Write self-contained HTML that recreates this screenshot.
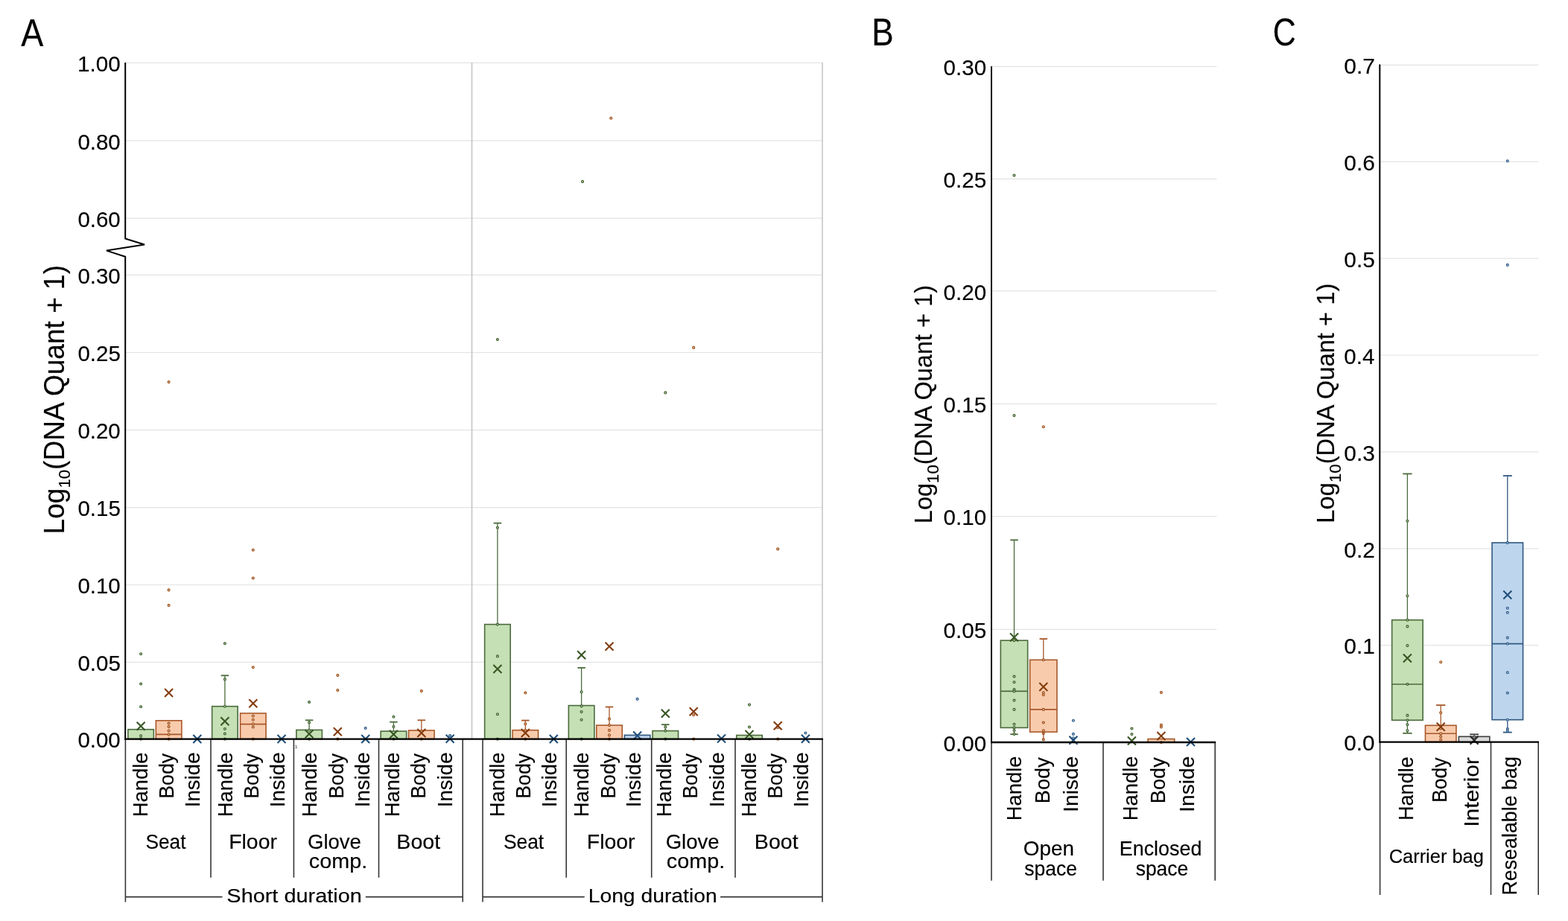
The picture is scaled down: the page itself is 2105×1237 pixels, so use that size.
<!DOCTYPE html>
<html><head><meta charset="utf-8"><title>Figure</title>
<style>html,body{margin:0;padding:0;background:#fff;}svg{display:block;}</style>
</head><body>
<svg width="2105" height="1237" viewBox="0 0 2105 1237" font-family="'Liberation Sans', Arial, sans-serif">
<style>text{stroke:#000;stroke-width:0.15px;}</style>
<rect width="2105" height="1237" fill="#fff"/>
<line x1="168" y1="84.3" x2="1104" y2="84.3" stroke="#e3e3e3" stroke-width="1.2"/>
<line x1="168" y1="188.8" x2="1104" y2="188.8" stroke="#e3e3e3" stroke-width="1.2"/>
<line x1="168" y1="293.1" x2="1104" y2="293.1" stroke="#e3e3e3" stroke-width="1.2"/>
<line x1="168" y1="369.3" x2="1104" y2="369.3" stroke="#e3e3e3" stroke-width="1.2"/>
<line x1="168" y1="473.5" x2="1104" y2="473.5" stroke="#e3e3e3" stroke-width="1.2"/>
<line x1="168" y1="577.7" x2="1104" y2="577.7" stroke="#e3e3e3" stroke-width="1.2"/>
<line x1="168" y1="681.6" x2="1104" y2="681.6" stroke="#e3e3e3" stroke-width="1.2"/>
<line x1="168" y1="785.5" x2="1104" y2="785.5" stroke="#e3e3e3" stroke-width="1.2"/>
<line x1="168" y1="889.4" x2="1104" y2="889.4" stroke="#e3e3e3" stroke-width="1.2"/>
<line x1="633.5" y1="84" x2="633.5" y2="992.6" stroke="#bfbfbf" stroke-width="1.4"/>
<line x1="1104" y1="84" x2="1104" y2="992.6" stroke="#bfbfbf" stroke-width="1.4"/>
<text x="104.04" y="96" font-size="29.6" textLength="57.72" lengthAdjust="spacingAndGlyphs" fill="#000">1.00</text>
<text x="104.45" y="200.5" font-size="29.6" textLength="57.3" lengthAdjust="spacingAndGlyphs" fill="#000">0.80</text>
<text x="104.45" y="304.8" font-size="29.6" textLength="57.3" lengthAdjust="spacingAndGlyphs" fill="#000">0.60</text>
<text x="104.45" y="381" font-size="29.6" textLength="57.3" lengthAdjust="spacingAndGlyphs" fill="#000">0.30</text>
<text x="104.45" y="485.2" font-size="29.6" textLength="57.39" lengthAdjust="spacingAndGlyphs" fill="#000">0.25</text>
<text x="104.45" y="589.4" font-size="29.6" textLength="57.3" lengthAdjust="spacingAndGlyphs" fill="#000">0.20</text>
<text x="104.45" y="693.3" font-size="29.6" textLength="57.39" lengthAdjust="spacingAndGlyphs" fill="#000">0.15</text>
<text x="104.45" y="797.2" font-size="29.6" textLength="57.3" lengthAdjust="spacingAndGlyphs" fill="#000">0.10</text>
<text x="104.45" y="901.1" font-size="29.6" textLength="57.39" lengthAdjust="spacingAndGlyphs" fill="#000">0.05</text>
<text x="104.45" y="1004.3" font-size="29.6" textLength="57.3" lengthAdjust="spacingAndGlyphs" fill="#000">0.00</text>
<line x1="168.4" y1="992.6" x2="168.4" y2="1211.6" stroke="#363636" stroke-width="1.6"/>
<line x1="283" y1="992.6" x2="283" y2="1178.7" stroke="#363636" stroke-width="1.6"/>
<line x1="394.4" y1="992.6" x2="394.4" y2="1178.7" stroke="#363636" stroke-width="1.6"/>
<line x1="508.5" y1="992.6" x2="508.5" y2="1178.7" stroke="#363636" stroke-width="1.6"/>
<line x1="621.2" y1="992.6" x2="621.2" y2="1211.6" stroke="#363636" stroke-width="1.6"/>
<line x1="648" y1="992.6" x2="648" y2="1211.6" stroke="#363636" stroke-width="1.6"/>
<line x1="760.2" y1="992.6" x2="760.2" y2="1178.7" stroke="#363636" stroke-width="1.6"/>
<line x1="874.7" y1="992.6" x2="874.7" y2="1178.7" stroke="#363636" stroke-width="1.6"/>
<line x1="987" y1="992.6" x2="987" y2="1178.7" stroke="#363636" stroke-width="1.6"/>
<line x1="1104" y1="992.6" x2="1104" y2="1211.6" stroke="#363636" stroke-width="1.6"/>
<line x1="168.4" y1="1204.6" x2="298.5" y2="1204.6" stroke="#363636" stroke-width="1.6"/>
<line x1="490.8" y1="1204.6" x2="621.2" y2="1204.6" stroke="#363636" stroke-width="1.6"/>
<line x1="648" y1="1204.6" x2="784.7" y2="1204.6" stroke="#363636" stroke-width="1.6"/>
<line x1="967.1" y1="1204.6" x2="1104" y2="1204.6" stroke="#363636" stroke-width="1.6"/>
<rect x="171.85" y="979.7" width="34.5" height="12.9" fill="#c5e0b4" stroke="#4b6b3c" stroke-width="1.6"/>
<circle cx="189.1" cy="878.2" r="1.45" fill="#c5e0b4" stroke="#3e5e2f" stroke-width="1.2"/>
<circle cx="189.1" cy="918.5" r="1.45" fill="#c5e0b4" stroke="#3e5e2f" stroke-width="1.2"/>
<circle cx="189.1" cy="949.3" r="1.45" fill="#c5e0b4" stroke="#3e5e2f" stroke-width="1.2"/>
<circle cx="189.1" cy="988.4" r="1.45" fill="#c5e0b4" stroke="#3e5e2f" stroke-width="1.2"/>
<circle cx="189.1" cy="992.6" r="1.45" fill="#c5e0b4" stroke="#3e5e2f" stroke-width="1.2"/>
<path d="M183.6,969.7L194.6,980.7M183.6,980.7L194.6,969.7" stroke="#375623" stroke-width="2.1" fill="none"/>
<rect x="209.35" y="967.8" width="34.5" height="24.8" fill="#f8cbad" stroke="#a8582a" stroke-width="1.6"/>
<line x1="209.35" y1="986.4" x2="243.85" y2="986.4" stroke="#a8582a" stroke-width="1.6"/>
<circle cx="226.6" cy="513.1" r="1.45" fill="#f8cbad" stroke="#9a4f1c" stroke-width="1.2"/>
<circle cx="226.6" cy="792.4" r="1.45" fill="#f8cbad" stroke="#9a4f1c" stroke-width="1.2"/>
<circle cx="226.6" cy="813" r="1.45" fill="#f8cbad" stroke="#9a4f1c" stroke-width="1.2"/>
<circle cx="226.6" cy="971.5" r="1.45" fill="#f8cbad" stroke="#9a4f1c" stroke-width="1.2"/>
<circle cx="226.6" cy="976.1" r="1.45" fill="#f8cbad" stroke="#9a4f1c" stroke-width="1.2"/>
<circle cx="226.6" cy="981.6" r="1.45" fill="#f8cbad" stroke="#9a4f1c" stroke-width="1.2"/>
<circle cx="226.6" cy="986.6" r="1.45" fill="#f8cbad" stroke="#9a4f1c" stroke-width="1.2"/>
<circle cx="226.6" cy="992.6" r="1.45" fill="#f8cbad" stroke="#9a4f1c" stroke-width="1.2"/>
<path d="M221.1,925L232.1,936M221.1,936L232.1,925" stroke="#843c0c" stroke-width="2.1" fill="none"/>
<path d="M259.3,987.1L270.3,998.1M259.3,998.1L270.3,987.1" stroke="#1f4e79" stroke-width="2.1" fill="none"/>
<line x1="301.9" y1="907.3" x2="301.9" y2="948.7" stroke="#4b6b3c" stroke-width="1.3"/>
<line x1="296.65" y1="907.3" x2="307.15" y2="907.3" stroke="#4b6b3c" stroke-width="1.8"/>
<rect x="284.65" y="948.7" width="34.5" height="43.9" fill="#c5e0b4" stroke="#4b6b3c" stroke-width="1.6"/>
<circle cx="301.9" cy="864.3" r="1.45" fill="#c5e0b4" stroke="#3e5e2f" stroke-width="1.2"/>
<circle cx="301.9" cy="912.4" r="1.45" fill="#c5e0b4" stroke="#3e5e2f" stroke-width="1.2"/>
<circle cx="301.9" cy="948.7" r="1.45" fill="#c5e0b4" stroke="#3e5e2f" stroke-width="1.2"/>
<circle cx="301.9" cy="979" r="1.45" fill="#c5e0b4" stroke="#3e5e2f" stroke-width="1.2"/>
<circle cx="301.9" cy="985.5" r="1.45" fill="#c5e0b4" stroke="#3e5e2f" stroke-width="1.2"/>
<circle cx="301.9" cy="992.6" r="1.45" fill="#c5e0b4" stroke="#3e5e2f" stroke-width="1.2"/>
<path d="M296.4,963.2L307.4,974.2M296.4,974.2L307.4,963.2" stroke="#375623" stroke-width="2.1" fill="none"/>
<rect x="322.55" y="958" width="34.5" height="34.6" fill="#f8cbad" stroke="#a8582a" stroke-width="1.6"/>
<line x1="322.55" y1="972.6" x2="357.05" y2="972.6" stroke="#a8582a" stroke-width="1.6"/>
<circle cx="339.8" cy="738.8" r="1.45" fill="#f8cbad" stroke="#9a4f1c" stroke-width="1.2"/>
<circle cx="339.8" cy="776.5" r="1.45" fill="#f8cbad" stroke="#9a4f1c" stroke-width="1.2"/>
<circle cx="339.8" cy="896.3" r="1.45" fill="#f8cbad" stroke="#9a4f1c" stroke-width="1.2"/>
<circle cx="339.8" cy="961.6" r="1.45" fill="#f8cbad" stroke="#9a4f1c" stroke-width="1.2"/>
<circle cx="339.8" cy="966.8" r="1.45" fill="#f8cbad" stroke="#9a4f1c" stroke-width="1.2"/>
<circle cx="339.8" cy="972.2" r="1.45" fill="#f8cbad" stroke="#9a4f1c" stroke-width="1.2"/>
<circle cx="339.8" cy="976.5" r="1.45" fill="#f8cbad" stroke="#9a4f1c" stroke-width="1.2"/>
<circle cx="339.8" cy="992.6" r="1.45" fill="#f8cbad" stroke="#9a4f1c" stroke-width="1.2"/>
<path d="M334.3,939.3L345.3,950.3M334.3,950.3L345.3,939.3" stroke="#843c0c" stroke-width="2.1" fill="none"/>
<path d="M372.5,987.1L383.5,998.1M372.5,998.1L383.5,987.1" stroke="#1f4e79" stroke-width="2.1" fill="none"/>
<line x1="415.1" y1="967.3" x2="415.1" y2="980.4" stroke="#4b6b3c" stroke-width="1.3"/>
<line x1="409.85" y1="967.3" x2="420.35" y2="967.3" stroke="#4b6b3c" stroke-width="1.8"/>
<rect x="397.85" y="980.4" width="34.5" height="12.2" fill="#c5e0b4" stroke="#4b6b3c" stroke-width="1.6"/>
<circle cx="415.1" cy="943" r="1.45" fill="#c5e0b4" stroke="#3e5e2f" stroke-width="1.2"/>
<circle cx="415.1" cy="970.5" r="1.45" fill="#c5e0b4" stroke="#3e5e2f" stroke-width="1.2"/>
<circle cx="415.1" cy="980.7" r="1.45" fill="#c5e0b4" stroke="#3e5e2f" stroke-width="1.2"/>
<circle cx="415.1" cy="992.6" r="1.45" fill="#c5e0b4" stroke="#3e5e2f" stroke-width="1.2"/>
<path d="M409.6,980.2L420.6,991.2M409.6,991.2L420.6,980.2" stroke="#375623" stroke-width="2.1" fill="none"/>
<circle cx="453.3" cy="907" r="1.45" fill="#f8cbad" stroke="#9a4f1c" stroke-width="1.2"/>
<circle cx="453.3" cy="927" r="1.45" fill="#f8cbad" stroke="#9a4f1c" stroke-width="1.2"/>
<circle cx="453.3" cy="992.6" r="1.45" fill="#f8cbad" stroke="#9a4f1c" stroke-width="1.2"/>
<path d="M447.8,977.2L458.8,988.2M447.8,988.2L458.8,977.2" stroke="#843c0c" stroke-width="2.1" fill="none"/>
<circle cx="490.7" cy="978" r="1.45" fill="#bdd5ed" stroke="#2c5a86" stroke-width="1.2"/>
<path d="M485.2,987.1L496.2,998.1M485.2,998.1L496.2,987.1" stroke="#1f4e79" stroke-width="2.1" fill="none"/>
<line x1="528.4" y1="969.7" x2="528.4" y2="982.1" stroke="#4b6b3c" stroke-width="1.3"/>
<line x1="523.15" y1="969.7" x2="533.65" y2="969.7" stroke="#4b6b3c" stroke-width="1.8"/>
<rect x="511.15" y="982.1" width="34.5" height="10.5" fill="#c5e0b4" stroke="#4b6b3c" stroke-width="1.6"/>
<circle cx="528.4" cy="962.8" r="1.45" fill="#c5e0b4" stroke="#3e5e2f" stroke-width="1.2"/>
<circle cx="528.4" cy="976" r="1.45" fill="#c5e0b4" stroke="#3e5e2f" stroke-width="1.2"/>
<circle cx="528.4" cy="992.6" r="1.45" fill="#c5e0b4" stroke="#3e5e2f" stroke-width="1.2"/>
<path d="M522.9,980.8L533.9,991.8M522.9,991.8L533.9,980.8" stroke="#375623" stroke-width="2.1" fill="none"/>
<line x1="565.8" y1="967.3" x2="565.8" y2="981" stroke="#a8582a" stroke-width="1.3"/>
<line x1="560.55" y1="967.3" x2="571.05" y2="967.3" stroke="#a8582a" stroke-width="1.8"/>
<rect x="548.55" y="981" width="34.5" height="11.6" fill="#f8cbad" stroke="#a8582a" stroke-width="1.6"/>
<circle cx="565.8" cy="928.1" r="1.45" fill="#f8cbad" stroke="#9a4f1c" stroke-width="1.2"/>
<circle cx="565.8" cy="992.6" r="1.45" fill="#f8cbad" stroke="#9a4f1c" stroke-width="1.2"/>
<path d="M560.3,979L571.3,990M560.3,990L571.3,979" stroke="#843c0c" stroke-width="2.1" fill="none"/>
<circle cx="604.1" cy="988" r="1.45" fill="#bdd5ed" stroke="#2c5a86" stroke-width="1.2"/>
<path d="M598.6,986.7L609.6,997.7M598.6,997.7L609.6,986.7" stroke="#1f4e79" stroke-width="2.1" fill="none"/>
<line x1="667.9" y1="702.6" x2="667.9" y2="838.6" stroke="#4b6b3c" stroke-width="1.3"/>
<line x1="662.65" y1="702.6" x2="673.15" y2="702.6" stroke="#4b6b3c" stroke-width="1.8"/>
<rect x="650.65" y="838.6" width="34.5" height="154" fill="#c5e0b4" stroke="#4b6b3c" stroke-width="1.6"/>
<circle cx="667.9" cy="456" r="1.45" fill="#c5e0b4" stroke="#3e5e2f" stroke-width="1.2"/>
<circle cx="667.9" cy="708.8" r="1.45" fill="#c5e0b4" stroke="#3e5e2f" stroke-width="1.2"/>
<circle cx="667.9" cy="838.6" r="1.45" fill="#c5e0b4" stroke="#3e5e2f" stroke-width="1.2"/>
<circle cx="667.9" cy="881.4" r="1.45" fill="#c5e0b4" stroke="#3e5e2f" stroke-width="1.2"/>
<circle cx="667.9" cy="959.2" r="1.45" fill="#c5e0b4" stroke="#3e5e2f" stroke-width="1.2"/>
<circle cx="667.9" cy="992.6" r="1.45" fill="#c5e0b4" stroke="#3e5e2f" stroke-width="1.2"/>
<path d="M662.4,893L673.4,904M662.4,904L673.4,893" stroke="#375623" stroke-width="2.1" fill="none"/>
<line x1="705.3" y1="967.6" x2="705.3" y2="980.7" stroke="#a8582a" stroke-width="1.3"/>
<line x1="700.05" y1="967.6" x2="710.55" y2="967.6" stroke="#a8582a" stroke-width="1.8"/>
<rect x="688.05" y="980.7" width="34.5" height="11.9" fill="#f8cbad" stroke="#a8582a" stroke-width="1.6"/>
<circle cx="705.3" cy="930.5" r="1.45" fill="#f8cbad" stroke="#9a4f1c" stroke-width="1.2"/>
<circle cx="705.3" cy="972.3" r="1.45" fill="#f8cbad" stroke="#9a4f1c" stroke-width="1.2"/>
<circle cx="705.3" cy="980.7" r="1.45" fill="#f8cbad" stroke="#9a4f1c" stroke-width="1.2"/>
<circle cx="705.3" cy="992.6" r="1.45" fill="#f8cbad" stroke="#9a4f1c" stroke-width="1.2"/>
<path d="M699.8,978.9L710.8,989.9M699.8,989.9L710.8,978.9" stroke="#843c0c" stroke-width="2.1" fill="none"/>
<path d="M737.8,986.9L748.8,997.9M737.8,997.9L748.8,986.9" stroke="#1f4e79" stroke-width="2.1" fill="none"/>
<line x1="780.6" y1="896.9" x2="780.6" y2="947.6" stroke="#4b6b3c" stroke-width="1.3"/>
<line x1="775.35" y1="896.9" x2="785.85" y2="896.9" stroke="#4b6b3c" stroke-width="1.8"/>
<rect x="763.35" y="947.6" width="34.5" height="45" fill="#c5e0b4" stroke="#4b6b3c" stroke-width="1.6"/>
<circle cx="782" cy="243.9" r="1.45" fill="#c5e0b4" stroke="#3e5e2f" stroke-width="1.2"/>
<circle cx="780.6" cy="929.2" r="1.45" fill="#c5e0b4" stroke="#3e5e2f" stroke-width="1.2"/>
<circle cx="780.6" cy="948.4" r="1.45" fill="#c5e0b4" stroke="#3e5e2f" stroke-width="1.2"/>
<circle cx="780.6" cy="956.1" r="1.45" fill="#c5e0b4" stroke="#3e5e2f" stroke-width="1.2"/>
<circle cx="780.6" cy="966.7" r="1.45" fill="#c5e0b4" stroke="#3e5e2f" stroke-width="1.2"/>
<circle cx="780.6" cy="992.6" r="1.45" fill="#c5e0b4" stroke="#3e5e2f" stroke-width="1.2"/>
<path d="M775.1,874.3L786.1,885.3M775.1,885.3L786.1,874.3" stroke="#375623" stroke-width="2.1" fill="none"/>
<line x1="818" y1="949.5" x2="818" y2="974.1" stroke="#a8582a" stroke-width="1.3"/>
<line x1="812.75" y1="949.5" x2="823.25" y2="949.5" stroke="#a8582a" stroke-width="1.8"/>
<rect x="800.75" y="974.1" width="34.5" height="18.5" fill="#f8cbad" stroke="#a8582a" stroke-width="1.6"/>
<circle cx="820.2" cy="158.8" r="1.45" fill="#f8cbad" stroke="#9a4f1c" stroke-width="1.2"/>
<circle cx="818" cy="965.6" r="1.45" fill="#f8cbad" stroke="#9a4f1c" stroke-width="1.2"/>
<circle cx="818" cy="974.1" r="1.45" fill="#f8cbad" stroke="#9a4f1c" stroke-width="1.2"/>
<circle cx="818" cy="980.9" r="1.45" fill="#f8cbad" stroke="#9a4f1c" stroke-width="1.2"/>
<circle cx="818" cy="987.4" r="1.45" fill="#f8cbad" stroke="#9a4f1c" stroke-width="1.2"/>
<circle cx="818" cy="992.6" r="1.45" fill="#f8cbad" stroke="#9a4f1c" stroke-width="1.2"/>
<path d="M812.5,862.7L823.5,873.7M812.5,873.7L823.5,862.7" stroke="#843c0c" stroke-width="2.1" fill="none"/>
<rect x="838.35" y="987.4" width="34.5" height="5.2" fill="#bdd5ed" stroke="#30587f" stroke-width="1.6"/>
<circle cx="855.6" cy="938.9" r="1.45" fill="#bdd5ed" stroke="#2c5a86" stroke-width="1.2"/>
<path d="M850.1,982.5L861.1,993.5M850.1,993.5L861.1,982.5" stroke="#1f4e79" stroke-width="2.1" fill="none"/>
<line x1="893.3" y1="973.2" x2="893.3" y2="981.6" stroke="#4b6b3c" stroke-width="1.3"/>
<line x1="888.05" y1="973.2" x2="898.55" y2="973.2" stroke="#4b6b3c" stroke-width="1.8"/>
<rect x="876.05" y="981.6" width="34.5" height="11" fill="#c5e0b4" stroke="#4b6b3c" stroke-width="1.6"/>
<circle cx="893.3" cy="527.4" r="1.45" fill="#c5e0b4" stroke="#3e5e2f" stroke-width="1.2"/>
<circle cx="893.3" cy="976.4" r="1.45" fill="#c5e0b4" stroke="#3e5e2f" stroke-width="1.2"/>
<circle cx="893.3" cy="981.6" r="1.45" fill="#c5e0b4" stroke="#3e5e2f" stroke-width="1.2"/>
<circle cx="893.3" cy="992.6" r="1.45" fill="#c5e0b4" stroke="#3e5e2f" stroke-width="1.2"/>
<path d="M887.8,952.8L898.8,963.8M887.8,963.8L898.8,952.8" stroke="#375623" stroke-width="2.1" fill="none"/>
<circle cx="931.2" cy="466.9" r="1.45" fill="#f8cbad" stroke="#9a4f1c" stroke-width="1.2"/>
<circle cx="931.2" cy="960.3" r="1.45" fill="#f8cbad" stroke="#9a4f1c" stroke-width="1.2"/>
<circle cx="931.2" cy="992.6" r="1.45" fill="#f8cbad" stroke="#9a4f1c" stroke-width="1.2"/>
<path d="M925.7,950.3L936.7,961.3M925.7,961.3L936.7,950.3" stroke="#843c0c" stroke-width="2.1" fill="none"/>
<path d="M963,986.4L974,997.4M963,997.4L974,986.4" stroke="#1f4e79" stroke-width="2.1" fill="none"/>
<rect x="988.75" y="987.5" width="34.5" height="5.1" fill="#c5e0b4" stroke="#4b6b3c" stroke-width="1.6"/>
<circle cx="1006" cy="946.6" r="1.45" fill="#c5e0b4" stroke="#3e5e2f" stroke-width="1.2"/>
<circle cx="1006" cy="976.5" r="1.45" fill="#c5e0b4" stroke="#3e5e2f" stroke-width="1.2"/>
<circle cx="1006" cy="992.6" r="1.45" fill="#c5e0b4" stroke="#3e5e2f" stroke-width="1.2"/>
<path d="M1000.5,981L1011.5,992M1000.5,992L1011.5,981" stroke="#375623" stroke-width="2.1" fill="none"/>
<circle cx="1044.2" cy="737.4" r="1.45" fill="#f8cbad" stroke="#9a4f1c" stroke-width="1.2"/>
<circle cx="1044.2" cy="977.3" r="1.45" fill="#f8cbad" stroke="#9a4f1c" stroke-width="1.2"/>
<circle cx="1044.2" cy="992.6" r="1.45" fill="#f8cbad" stroke="#9a4f1c" stroke-width="1.2"/>
<path d="M1038.7,969.3L1049.7,980.3M1038.7,980.3L1049.7,969.3" stroke="#843c0c" stroke-width="2.1" fill="none"/>
<circle cx="1081.4" cy="984.5" r="1.45" fill="#bdd5ed" stroke="#2c5a86" stroke-width="1.2"/>
<path d="M1075.9,986.7L1086.9,997.7M1075.9,997.7L1086.9,986.7" stroke="#1f4e79" stroke-width="2.1" fill="none"/>
<polyline points="168.2,84 168.2,320.4 194,328.5 143,336.6 168.2,344.7 168.2,993.6" fill="none" stroke="#000" stroke-width="2" stroke-linejoin="miter"/>
<line x1="167.2" y1="992.6" x2="1105" y2="992.6" stroke="#000" stroke-width="2.3"/>
<text x="396" y="1005" font-size="6" fill="#888">1</text>
<text transform="translate(197.5,1097.35) rotate(-90)" font-size="27.4" textLength="86.97" lengthAdjust="spacingAndGlyphs">Handle</text>
<text transform="translate(233,1072.8) rotate(-90)" font-size="27.4" textLength="61.05" lengthAdjust="spacingAndGlyphs">Body</text>
<text transform="translate(268.2,1084.25) rotate(-90)" font-size="27.4" textLength="73.78" lengthAdjust="spacingAndGlyphs">Inside</text>
<text transform="translate(312.2,1097.35) rotate(-90)" font-size="27.4" textLength="86.97" lengthAdjust="spacingAndGlyphs">Handle</text>
<text transform="translate(347,1072.8) rotate(-90)" font-size="27.4" textLength="61.05" lengthAdjust="spacingAndGlyphs">Body</text>
<text transform="translate(382.3,1084.25) rotate(-90)" font-size="27.4" textLength="73.78" lengthAdjust="spacingAndGlyphs">Inside</text>
<text transform="translate(425.1,1097.35) rotate(-90)" font-size="27.4" textLength="86.97" lengthAdjust="spacingAndGlyphs">Handle</text>
<text transform="translate(460.6,1072.8) rotate(-90)" font-size="27.4" textLength="61.05" lengthAdjust="spacingAndGlyphs">Body</text>
<text transform="translate(495.9,1084.25) rotate(-90)" font-size="27.4" textLength="73.78" lengthAdjust="spacingAndGlyphs">Inside</text>
<text transform="translate(536.2,1097.35) rotate(-90)" font-size="27.4" textLength="86.97" lengthAdjust="spacingAndGlyphs">Handle</text>
<text transform="translate(570.7,1072.8) rotate(-90)" font-size="27.4" textLength="61.05" lengthAdjust="spacingAndGlyphs">Body</text>
<text transform="translate(606.7,1084.25) rotate(-90)" font-size="27.4" textLength="73.78" lengthAdjust="spacingAndGlyphs">Inside</text>
<text transform="translate(677,1097.35) rotate(-90)" font-size="27.4" textLength="86.97" lengthAdjust="spacingAndGlyphs">Handle</text>
<text transform="translate(711.9,1072.8) rotate(-90)" font-size="27.4" textLength="61.05" lengthAdjust="spacingAndGlyphs">Body</text>
<text transform="translate(746.8,1084.25) rotate(-90)" font-size="27.4" textLength="73.78" lengthAdjust="spacingAndGlyphs">Inside</text>
<text transform="translate(790,1097.35) rotate(-90)" font-size="27.4" textLength="86.97" lengthAdjust="spacingAndGlyphs">Handle</text>
<text transform="translate(825.5,1072.8) rotate(-90)" font-size="27.4" textLength="61.05" lengthAdjust="spacingAndGlyphs">Body</text>
<text transform="translate(860.3,1084.25) rotate(-90)" font-size="27.4" textLength="73.78" lengthAdjust="spacingAndGlyphs">Inside</text>
<text transform="translate(901.4,1097.35) rotate(-90)" font-size="27.4" textLength="86.97" lengthAdjust="spacingAndGlyphs">Handle</text>
<text transform="translate(936.4,1072.8) rotate(-90)" font-size="27.4" textLength="61.05" lengthAdjust="spacingAndGlyphs">Body</text>
<text transform="translate(972,1084.25) rotate(-90)" font-size="27.4" textLength="73.78" lengthAdjust="spacingAndGlyphs">Inside</text>
<text transform="translate(1014.7,1097.35) rotate(-90)" font-size="27.4" textLength="86.97" lengthAdjust="spacingAndGlyphs">Handle</text>
<text transform="translate(1050.2,1072.8) rotate(-90)" font-size="27.4" textLength="61.05" lengthAdjust="spacingAndGlyphs">Body</text>
<text transform="translate(1085.2,1084.25) rotate(-90)" font-size="27.4" textLength="73.78" lengthAdjust="spacingAndGlyphs">Inside</text>
<text x="195.51" y="1139.6" font-size="27.4" textLength="53.98" lengthAdjust="spacingAndGlyphs" fill="#000">Seat</text>
<text x="307.22" y="1139.6" font-size="27.4" textLength="64.7" lengthAdjust="spacingAndGlyphs" fill="#000">Floor</text>
<text x="412.97" y="1139.6" font-size="27.4" textLength="71.91" lengthAdjust="spacingAndGlyphs" fill="#000">Glove</text>
<text x="414.83" y="1166" font-size="27.4" textLength="78.35" lengthAdjust="spacingAndGlyphs" fill="#000">comp.</text>
<text x="532.36" y="1139.6" font-size="27.4" textLength="58.75" lengthAdjust="spacingAndGlyphs" fill="#000">Boot</text>
<text x="676" y="1139.6" font-size="27.4" textLength="54.19" lengthAdjust="spacingAndGlyphs" fill="#000">Seat</text>
<text x="787.82" y="1139.6" font-size="27.4" textLength="64.7" lengthAdjust="spacingAndGlyphs" fill="#000">Floor</text>
<text x="893.67" y="1139.6" font-size="27.4" textLength="71.91" lengthAdjust="spacingAndGlyphs" fill="#000">Glove</text>
<text x="894.83" y="1166" font-size="27.4" textLength="78.35" lengthAdjust="spacingAndGlyphs" fill="#000">comp.</text>
<text x="1012.86" y="1139.6" font-size="27.4" textLength="58.75" lengthAdjust="spacingAndGlyphs" fill="#000">Boot</text>
<text x="304.39" y="1211.8" font-size="26.2" textLength="181.39" lengthAdjust="spacingAndGlyphs" fill="#000">Short duration</text>
<text x="789.68" y="1211.8" font-size="26.2" textLength="172.96" lengthAdjust="spacingAndGlyphs" fill="#000">Long duration</text>
<text transform="translate(86.2,717.42) rotate(-90)" font-size="37.9" textLength="361.51" lengthAdjust="spacingAndGlyphs">Log<tspan font-size="22.6" dy="7.8">10</tspan><tspan font-size="37.9" dy="-7.8">(DNA Quant + 1)</tspan></text>
<text x="28.21" y="61.5" font-size="51.2" textLength="30.08" lengthAdjust="spacingAndGlyphs" fill="#000">A</text>
<text x="1170.18" y="60.8" font-size="51.2" textLength="29.45" lengthAdjust="spacingAndGlyphs" fill="#000">B</text>
<text x="1708.82" y="60.6" font-size="51.2" textLength="31.02" lengthAdjust="spacingAndGlyphs" fill="#000">C</text>
<line x1="1331" y1="845.3" x2="1633.5" y2="845.3" stroke="#e3e3e3" stroke-width="1.2"/>
<line x1="1331" y1="693.7" x2="1633.5" y2="693.7" stroke="#e3e3e3" stroke-width="1.2"/>
<line x1="1331" y1="542.4" x2="1633.5" y2="542.4" stroke="#e3e3e3" stroke-width="1.2"/>
<line x1="1331" y1="390.9" x2="1633.5" y2="390.9" stroke="#e3e3e3" stroke-width="1.2"/>
<line x1="1331" y1="240.3" x2="1633.5" y2="240.3" stroke="#e3e3e3" stroke-width="1.2"/>
<line x1="1331" y1="89.3" x2="1633.5" y2="89.3" stroke="#e3e3e3" stroke-width="1.2"/>
<text x="1266.54" y="1008.7" font-size="29.6" textLength="57.61" lengthAdjust="spacingAndGlyphs" fill="#000">0.00</text>
<text x="1266.54" y="857" font-size="29.6" textLength="57.7" lengthAdjust="spacingAndGlyphs" fill="#000">0.05</text>
<text x="1266.54" y="705.4" font-size="29.6" textLength="57.61" lengthAdjust="spacingAndGlyphs" fill="#000">0.10</text>
<text x="1266.54" y="554.1" font-size="29.6" textLength="57.7" lengthAdjust="spacingAndGlyphs" fill="#000">0.15</text>
<text x="1266.54" y="402.6" font-size="29.6" textLength="57.61" lengthAdjust="spacingAndGlyphs" fill="#000">0.20</text>
<text x="1266.54" y="252" font-size="29.6" textLength="57.7" lengthAdjust="spacingAndGlyphs" fill="#000">0.25</text>
<text x="1266.54" y="101" font-size="29.6" textLength="57.61" lengthAdjust="spacingAndGlyphs" fill="#000">0.30</text>
<line x1="1331" y1="997" x2="1331" y2="1182.7" stroke="#363636" stroke-width="1.6"/>
<line x1="1481" y1="997" x2="1481" y2="1182.7" stroke="#363636" stroke-width="1.6"/>
<line x1="1631.2" y1="997" x2="1631.2" y2="1182.7" stroke="#363636" stroke-width="1.6"/>
<line x1="1361.5" y1="725.3" x2="1361.5" y2="860.2" stroke="#4b6b3c" stroke-width="1.3"/>
<line x1="1356.25" y1="725.3" x2="1366.75" y2="725.3" stroke="#4b6b3c" stroke-width="1.8"/>
<line x1="1361.5" y1="977.4" x2="1361.5" y2="986.2" stroke="#4b6b3c" stroke-width="1.3"/>
<line x1="1356.25" y1="986.2" x2="1366.75" y2="986.2" stroke="#4b6b3c" stroke-width="1.8"/>
<rect x="1343.35" y="860.2" width="36.3" height="117.2" fill="#c5e0b4" stroke="#4b6b3c" stroke-width="1.6"/>
<line x1="1343.35" y1="928.4" x2="1379.65" y2="928.4" stroke="#4b6b3c" stroke-width="1.6"/>
<circle cx="1361.5" cy="235.6" r="1.45" fill="#c5e0b4" stroke="#3e5e2f" stroke-width="1.2"/>
<circle cx="1361.5" cy="558.1" r="1.45" fill="#c5e0b4" stroke="#3e5e2f" stroke-width="1.2"/>
<circle cx="1361.5" cy="860.2" r="1.45" fill="#c5e0b4" stroke="#3e5e2f" stroke-width="1.2"/>
<circle cx="1361.5" cy="908.6" r="1.45" fill="#c5e0b4" stroke="#3e5e2f" stroke-width="1.2"/>
<circle cx="1361.5" cy="916.3" r="1.45" fill="#c5e0b4" stroke="#3e5e2f" stroke-width="1.2"/>
<circle cx="1361.5" cy="926" r="1.45" fill="#c5e0b4" stroke="#3e5e2f" stroke-width="1.2"/>
<circle cx="1361.5" cy="928.4" r="1.45" fill="#c5e0b4" stroke="#3e5e2f" stroke-width="1.2"/>
<circle cx="1361.5" cy="940.6" r="1.45" fill="#c5e0b4" stroke="#3e5e2f" stroke-width="1.2"/>
<circle cx="1361.5" cy="952.9" r="1.45" fill="#c5e0b4" stroke="#3e5e2f" stroke-width="1.2"/>
<circle cx="1361.5" cy="972.8" r="1.45" fill="#c5e0b4" stroke="#3e5e2f" stroke-width="1.2"/>
<circle cx="1361.5" cy="977.4" r="1.45" fill="#c5e0b4" stroke="#3e5e2f" stroke-width="1.2"/>
<circle cx="1361.5" cy="981" r="1.45" fill="#c5e0b4" stroke="#3e5e2f" stroke-width="1.2"/>
<circle cx="1361.5" cy="986" r="1.45" fill="#c5e0b4" stroke="#3e5e2f" stroke-width="1.2"/>
<path d="M1356,850.6L1367,861.6M1356,861.6L1367,850.6" stroke="#375623" stroke-width="2.1" fill="none"/>
<line x1="1400.8" y1="858.1" x2="1400.8" y2="886.3" stroke="#a8582a" stroke-width="1.3"/>
<line x1="1395.55" y1="858.1" x2="1406.05" y2="858.1" stroke="#a8582a" stroke-width="1.8"/>
<rect x="1382.65" y="886.3" width="36.3" height="96.8" fill="#f8cbad" stroke="#a8582a" stroke-width="1.6"/>
<line x1="1382.65" y1="952.9" x2="1418.95" y2="952.9" stroke="#a8582a" stroke-width="1.6"/>
<circle cx="1400.8" cy="573.2" r="1.45" fill="#f8cbad" stroke="#9a4f1c" stroke-width="1.2"/>
<circle cx="1400.8" cy="886.3" r="1.45" fill="#f8cbad" stroke="#9a4f1c" stroke-width="1.2"/>
<circle cx="1400.8" cy="930.3" r="1.45" fill="#f8cbad" stroke="#9a4f1c" stroke-width="1.2"/>
<circle cx="1400.8" cy="933.3" r="1.45" fill="#f8cbad" stroke="#9a4f1c" stroke-width="1.2"/>
<circle cx="1400.8" cy="952.9" r="1.45" fill="#f8cbad" stroke="#9a4f1c" stroke-width="1.2"/>
<circle cx="1400.8" cy="970.5" r="1.45" fill="#f8cbad" stroke="#9a4f1c" stroke-width="1.2"/>
<circle cx="1400.8" cy="981.3" r="1.45" fill="#f8cbad" stroke="#9a4f1c" stroke-width="1.2"/>
<circle cx="1400.8" cy="985.1" r="1.45" fill="#f8cbad" stroke="#9a4f1c" stroke-width="1.2"/>
<circle cx="1400.8" cy="993.2" r="1.45" fill="#f8cbad" stroke="#9a4f1c" stroke-width="1.2"/>
<path d="M1395.3,917.1L1406.3,928.1M1395.3,928.1L1406.3,917.1" stroke="#843c0c" stroke-width="2.1" fill="none"/>
<line x1="1400.8" y1="983.1" x2="1400.8" y2="993.2" stroke="#a8582a" stroke-width="1.3"/>
<circle cx="1440.9" cy="967.7" r="1.45" fill="#bdd5ed" stroke="#2c5a86" stroke-width="1.2"/>
<circle cx="1440.9" cy="985.9" r="1.45" fill="#bdd5ed" stroke="#2c5a86" stroke-width="1.2"/>
<circle cx="1440.9" cy="991.2" r="1.45" fill="#bdd5ed" stroke="#2c5a86" stroke-width="1.2"/>
<path d="M1435.4,988.8L1446.4,999.8M1435.4,999.8L1446.4,988.8" stroke="#1f4e79" stroke-width="2.1" fill="none"/>
<circle cx="1519.4" cy="978.5" r="1.45" fill="#c5e0b4" stroke="#3e5e2f" stroke-width="1.2"/>
<circle cx="1519.4" cy="986.1" r="1.45" fill="#c5e0b4" stroke="#3e5e2f" stroke-width="1.2"/>
<path d="M1513.9,989.5L1524.9,1000.5M1513.9,1000.5L1524.9,989.5" stroke="#375623" stroke-width="2.1" fill="none"/>
<rect x="1541.1" y="992.5" width="35.6" height="4.5" fill="#f8cbad" stroke="#a8582a" stroke-width="1.6"/>
<circle cx="1558.9" cy="930.1" r="1.45" fill="#f8cbad" stroke="#9a4f1c" stroke-width="1.2"/>
<circle cx="1558.9" cy="973.8" r="1.45" fill="#f8cbad" stroke="#9a4f1c" stroke-width="1.2"/>
<circle cx="1558.9" cy="976.5" r="1.45" fill="#f8cbad" stroke="#9a4f1c" stroke-width="1.2"/>
<circle cx="1558.9" cy="997" r="1.45" fill="#f8cbad" stroke="#9a4f1c" stroke-width="1.2"/>
<path d="M1553.4,983L1564.4,994M1553.4,994L1564.4,983" stroke="#843c0c" stroke-width="2.1" fill="none"/>
<path d="M1593,991L1604,1002M1593,1002L1604,991" stroke="#1f4e79" stroke-width="2.1" fill="none"/>
<line x1="1331" y1="89" x2="1331" y2="998" stroke="#000" stroke-width="2"/>
<line x1="1330" y1="997" x2="1632.2" y2="997" stroke="#000" stroke-width="2.3"/>
<text transform="translate(1370.6,1102.24) rotate(-90)" font-size="27.4" textLength="86.66" lengthAdjust="spacingAndGlyphs">Handle</text>
<text transform="translate(1409.1,1079.13) rotate(-90)" font-size="27.4" textLength="61.88" lengthAdjust="spacingAndGlyphs">Body</text>
<text transform="translate(1447.3,1090.7) rotate(-90)" font-size="27.4" textLength="75.15" lengthAdjust="spacingAndGlyphs">Inisde</text>
<text transform="translate(1526.8,1102.24) rotate(-90)" font-size="27.4" textLength="86.66" lengthAdjust="spacingAndGlyphs">Handle</text>
<text transform="translate(1564.4,1079.13) rotate(-90)" font-size="27.4" textLength="61.88" lengthAdjust="spacingAndGlyphs">Body</text>
<text transform="translate(1603.1,1090.7) rotate(-90)" font-size="27.4" textLength="75.15" lengthAdjust="spacingAndGlyphs">Inside</text>
<text x="1373.88" y="1148.7" font-size="27.4" textLength="68.13" lengthAdjust="spacingAndGlyphs" fill="#000">Open</text>
<text x="1375.26" y="1175.9" font-size="27.4" textLength="70.72" lengthAdjust="spacingAndGlyphs" fill="#000">space</text>
<text x="1502.8" y="1148.7" font-size="27.4" textLength="110.54" lengthAdjust="spacingAndGlyphs" fill="#000">Enclosed</text>
<text x="1524.66" y="1175.9" font-size="27.4" textLength="70.61" lengthAdjust="spacingAndGlyphs" fill="#000">space</text>
<text transform="translate(1250.5,703.15) rotate(-90)" font-size="32.8" textLength="320.16" lengthAdjust="spacingAndGlyphs">Log<tspan font-size="22.3" dy="9.2">10</tspan><tspan font-size="32.8" dy="-9.2">(DNA Quant + 1)</tspan></text>
<line x1="1852.3" y1="866.7" x2="2065.2" y2="866.7" stroke="#e3e3e3" stroke-width="1.2"/>
<line x1="1852.3" y1="736.8" x2="2065.2" y2="736.8" stroke="#e3e3e3" stroke-width="1.2"/>
<line x1="1852.3" y1="606.9" x2="2065.2" y2="606.9" stroke="#e3e3e3" stroke-width="1.2"/>
<line x1="1852.3" y1="477" x2="2065.2" y2="477" stroke="#e3e3e3" stroke-width="1.2"/>
<line x1="1852.3" y1="347.1" x2="2065.2" y2="347.1" stroke="#e3e3e3" stroke-width="1.2"/>
<line x1="1852.3" y1="217.2" x2="2065.2" y2="217.2" stroke="#e3e3e3" stroke-width="1.2"/>
<line x1="1852.3" y1="87.3" x2="2065.2" y2="87.3" stroke="#e3e3e3" stroke-width="1.2"/>
<text x="1804.34" y="1008.3" font-size="29.6" textLength="41.32" lengthAdjust="spacingAndGlyphs" fill="#000">0.0</text>
<text x="1804.33" y="878.4" font-size="29.6" textLength="41.63" lengthAdjust="spacingAndGlyphs" fill="#000">0.1</text>
<text x="1804.33" y="748.5" font-size="29.6" textLength="41.68" lengthAdjust="spacingAndGlyphs" fill="#000">0.2</text>
<text x="1804.33" y="618.6" font-size="29.6" textLength="41.48" lengthAdjust="spacingAndGlyphs" fill="#000">0.3</text>
<text x="1804.35" y="488.7" font-size="29.6" textLength="41.02" lengthAdjust="spacingAndGlyphs" fill="#000">0.4</text>
<text x="1804.34" y="358.8" font-size="29.6" textLength="41.41" lengthAdjust="spacingAndGlyphs" fill="#000">0.5</text>
<text x="1804.33" y="228.9" font-size="29.6" textLength="41.48" lengthAdjust="spacingAndGlyphs" fill="#000">0.6</text>
<text x="1804.33" y="99" font-size="29.6" textLength="41.68" lengthAdjust="spacingAndGlyphs" fill="#000">0.7</text>
<line x1="1852.6" y1="996.6" x2="1852.6" y2="1202" stroke="#363636" stroke-width="1.6"/>
<line x1="2001.5" y1="996.6" x2="2001.5" y2="1202" stroke="#363636" stroke-width="1.6"/>
<line x1="2065.2" y1="996.6" x2="2065.2" y2="1202" stroke="#363636" stroke-width="1.6"/>
<line x1="1889.4" y1="636.4" x2="1889.4" y2="832.7" stroke="#4b6b3c" stroke-width="1.3"/>
<line x1="1883.2" y1="636.4" x2="1895.6" y2="636.4" stroke="#4b6b3c" stroke-width="1.8"/>
<line x1="1889.4" y1="967.3" x2="1889.4" y2="984.8" stroke="#4b6b3c" stroke-width="1.3"/>
<line x1="1883.2" y1="984.8" x2="1895.6" y2="984.8" stroke="#4b6b3c" stroke-width="1.8"/>
<rect x="1868.65" y="832.7" width="41.5" height="134.6" fill="#c5e0b4" stroke="#4b6b3c" stroke-width="1.6"/>
<line x1="1868.65" y1="919" x2="1910.15" y2="919" stroke="#4b6b3c" stroke-width="1.6"/>
<circle cx="1889.4" cy="699.7" r="1.45" fill="#c5e0b4" stroke="#3e5e2f" stroke-width="1.2"/>
<circle cx="1889.4" cy="800.2" r="1.45" fill="#c5e0b4" stroke="#3e5e2f" stroke-width="1.2"/>
<circle cx="1889.4" cy="832.7" r="1.45" fill="#c5e0b4" stroke="#3e5e2f" stroke-width="1.2"/>
<circle cx="1889.4" cy="841.4" r="1.45" fill="#c5e0b4" stroke="#3e5e2f" stroke-width="1.2"/>
<circle cx="1889.4" cy="867.1" r="1.45" fill="#c5e0b4" stroke="#3e5e2f" stroke-width="1.2"/>
<circle cx="1889.4" cy="919" r="1.45" fill="#c5e0b4" stroke="#3e5e2f" stroke-width="1.2"/>
<circle cx="1889.4" cy="960.9" r="1.45" fill="#c5e0b4" stroke="#3e5e2f" stroke-width="1.2"/>
<circle cx="1889.4" cy="967.3" r="1.45" fill="#c5e0b4" stroke="#3e5e2f" stroke-width="1.2"/>
<circle cx="1889.4" cy="973.3" r="1.45" fill="#c5e0b4" stroke="#3e5e2f" stroke-width="1.2"/>
<circle cx="1889.4" cy="981.2" r="1.45" fill="#c5e0b4" stroke="#3e5e2f" stroke-width="1.2"/>
<path d="M1883.9,878.5L1894.9,889.5M1883.9,889.5L1894.9,878.5" stroke="#375623" stroke-width="2.1" fill="none"/>
<line x1="1934.2" y1="947.1" x2="1934.2" y2="974.3" stroke="#a8582a" stroke-width="1.3"/>
<line x1="1928" y1="947.1" x2="1940.4" y2="947.1" stroke="#a8582a" stroke-width="1.8"/>
<rect x="1913.45" y="974.3" width="41.5" height="22.3" fill="#f8cbad" stroke="#a8582a" stroke-width="1.6"/>
<line x1="1913.45" y1="985.2" x2="1954.95" y2="985.2" stroke="#a8582a" stroke-width="1.6"/>
<circle cx="1934.2" cy="889.2" r="1.45" fill="#f8cbad" stroke="#9a4f1c" stroke-width="1.2"/>
<circle cx="1934.2" cy="957.3" r="1.45" fill="#f8cbad" stroke="#9a4f1c" stroke-width="1.2"/>
<circle cx="1934.2" cy="978.5" r="1.45" fill="#f8cbad" stroke="#9a4f1c" stroke-width="1.2"/>
<circle cx="1934.2" cy="985.2" r="1.45" fill="#f8cbad" stroke="#9a4f1c" stroke-width="1.2"/>
<circle cx="1934.2" cy="989.3" r="1.45" fill="#f8cbad" stroke="#9a4f1c" stroke-width="1.2"/>
<circle cx="1934.2" cy="993.5" r="1.45" fill="#f8cbad" stroke="#9a4f1c" stroke-width="1.2"/>
<path d="M1928.7,970.8L1939.7,981.8M1928.7,981.8L1939.7,970.8" stroke="#843c0c" stroke-width="2.1" fill="none"/>
<line x1="1979.1" y1="986.3" x2="1979.1" y2="989.3" stroke="#404040" stroke-width="1.3"/>
<line x1="1973.1" y1="986.3" x2="1985.1" y2="986.3" stroke="#404040" stroke-width="1.8"/>
<rect x="1958.35" y="989.3" width="41.5" height="7.3" fill="#dadada" stroke="#404040" stroke-width="1.6"/>
<circle cx="1979.1" cy="990" r="1.45" fill="#dadada" stroke="#404040" stroke-width="1.2"/>
<path d="M1973.6,988.7L1984.6,999.7M1973.6,999.7L1984.6,988.7" stroke="#262626" stroke-width="2.1" fill="none"/>
<line x1="2023.8" y1="639" x2="2023.8" y2="728.9" stroke="#30587f" stroke-width="1.3"/>
<line x1="2017.8" y1="639" x2="2029.8" y2="639" stroke="#30587f" stroke-width="1.8"/>
<line x1="2023.8" y1="966.7" x2="2023.8" y2="983.6" stroke="#30587f" stroke-width="1.3"/>
<line x1="2017.8" y1="983.6" x2="2029.8" y2="983.6" stroke="#30587f" stroke-width="1.8"/>
<rect x="2003.05" y="728.9" width="41.5" height="237.8" fill="#bdd5ed" stroke="#30587f" stroke-width="1.6"/>
<line x1="2003.05" y1="864.6" x2="2044.55" y2="864.6" stroke="#30587f" stroke-width="1.6"/>
<circle cx="2023.8" cy="216.3" r="1.45" fill="#bdd5ed" stroke="#2c5a86" stroke-width="1.2"/>
<circle cx="2023.8" cy="355.9" r="1.45" fill="#bdd5ed" stroke="#2c5a86" stroke-width="1.2"/>
<circle cx="2023.8" cy="728.9" r="1.45" fill="#bdd5ed" stroke="#2c5a86" stroke-width="1.2"/>
<circle cx="2023.8" cy="816.7" r="1.45" fill="#bdd5ed" stroke="#2c5a86" stroke-width="1.2"/>
<circle cx="2023.8" cy="822.8" r="1.45" fill="#bdd5ed" stroke="#2c5a86" stroke-width="1.2"/>
<circle cx="2023.8" cy="856.6" r="1.45" fill="#bdd5ed" stroke="#2c5a86" stroke-width="1.2"/>
<circle cx="2023.8" cy="864.6" r="1.45" fill="#bdd5ed" stroke="#2c5a86" stroke-width="1.2"/>
<circle cx="2023.8" cy="903.2" r="1.45" fill="#bdd5ed" stroke="#2c5a86" stroke-width="1.2"/>
<circle cx="2023.8" cy="930.8" r="1.45" fill="#bdd5ed" stroke="#2c5a86" stroke-width="1.2"/>
<circle cx="2023.8" cy="966.7" r="1.45" fill="#bdd5ed" stroke="#2c5a86" stroke-width="1.2"/>
<circle cx="2023.8" cy="979" r="1.45" fill="#bdd5ed" stroke="#2c5a86" stroke-width="1.2"/>
<circle cx="2023.8" cy="981.5" r="1.45" fill="#bdd5ed" stroke="#2c5a86" stroke-width="1.2"/>
<path d="M2018.3,793.4L2029.3,804.4M2018.3,804.4L2029.3,793.4" stroke="#1f4e79" stroke-width="2.1" fill="none"/>
<line x1="1852.3" y1="86.6" x2="1852.3" y2="997.6" stroke="#000" stroke-width="2"/>
<line x1="1851.3" y1="996.6" x2="2066" y2="996.6" stroke="#000" stroke-width="2.3"/>
<text transform="translate(1896.7,1101.92) rotate(-90)" font-size="27.4" textLength="85.62" lengthAdjust="spacingAndGlyphs">Handle</text>
<text transform="translate(1941.9,1078.08) rotate(-90)" font-size="27.4" textLength="60.63" lengthAdjust="spacingAndGlyphs">Body</text>
<text transform="translate(1984.6,1110.78) rotate(-90)" font-size="27.4" textLength="93.78" lengthAdjust="spacingAndGlyphs">Interior</text>
<text transform="translate(2036.1,1202.6) rotate(-90)" font-size="27.4" textLength="186.43" lengthAdjust="spacingAndGlyphs">Resealable bag</text>
<text x="1864.71" y="1159.2" font-size="26.2" textLength="127.13" lengthAdjust="spacingAndGlyphs" fill="#000">Carrier bag</text>
<text transform="translate(1791,702.67) rotate(-90)" font-size="32.8" textLength="321.98" lengthAdjust="spacingAndGlyphs">Log<tspan font-size="22.3" dy="9.2">10</tspan><tspan font-size="32.8" dy="-9.2">(DNA Quant + 1)</tspan></text>
</svg>
</body></html>
